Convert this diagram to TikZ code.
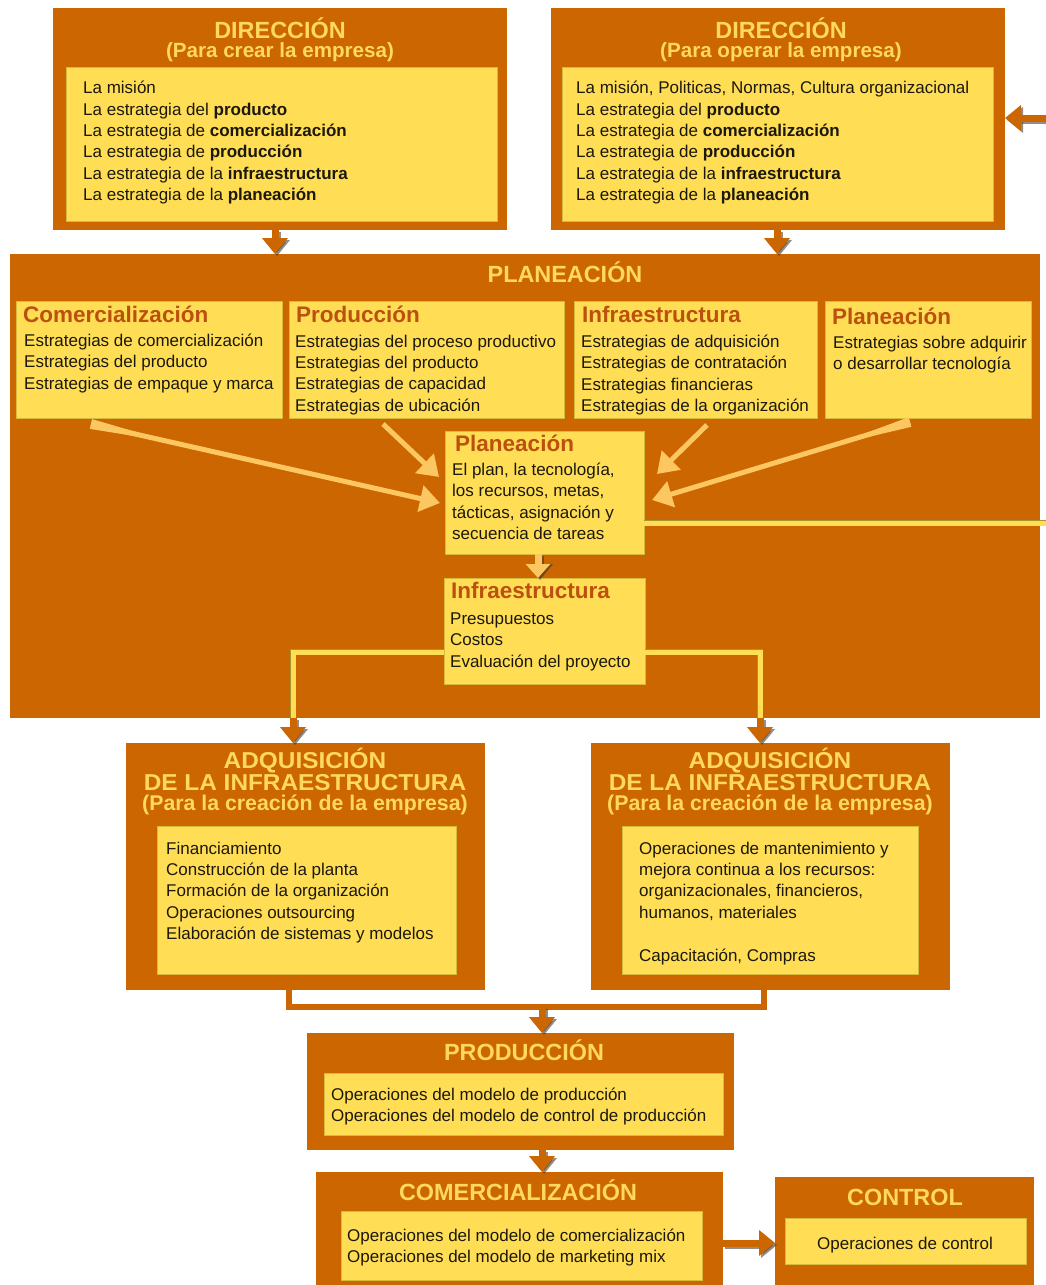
\documentclass[tikz,border=0pt]{standalone}
\usepackage{fontspec}
\setmainfont{Liberation Sans}
\newfontfamily\adqfont[FakeStretch=1.06]{Liberation Sans}
\usetikzlibrary{arrows.meta,calc}
\definecolor{orng}{RGB}{204,102,0}
\definecolor{ylw}{RGB}{255,222,85}
\definecolor{ylwedge}{RGB}{215,185,60}
\definecolor{ttl}{RGB}{255,216,96}
\definecolor{hdgc}{RGB}{188,80,15}
\definecolor{txt}{RGB}{28,24,12}
\definecolor{larr}{RGB}{252,198,96}
\definecolor{shd}{RGB}{60,50,40}
\begin{document}
\begin{tikzpicture}[x=1pt,y=-1pt,
  outer/.style={fill=orng,draw=none,anchor=north west,inner sep=0pt,outer sep=0pt},
  inner/.style={fill=ylw,draw=ylwedge,line width=0.8pt,anchor=north west,inner sep=0pt,outer sep=0pt},
  ttlA/.style={text=ttl,anchor=base,inner sep=0pt,font=\bfseries\fontsize{23.4}{24}\selectfont},
  ttlB/.style={text=ttl,anchor=base,inner sep=0pt,font=\adqfont\bfseries\fontsize{23}{23}\selectfont},
  subA/.style={text=ttl,anchor=base,inner sep=0pt,font=\bfseries\fontsize{20.6}{21}\selectfont},
  subB/.style={text=ttl,anchor=base,inner sep=0pt,font=\bfseries\fontsize{21.3}{22}\selectfont},
  hdg/.style={text=hdgc,anchor=base west,inner sep=0pt,font=\bfseries\fontsize{22.5}{23}\selectfont},
  body/.style={text=txt,anchor=north west,inner sep=0pt,align=left,font=\fontsize{17}{21.4}\selectfont},
  blk/.style={draw=orng,line width=7pt,-{Triangle[length=16pt,width=25pt]}},
  blkS/.style={draw=shd,opacity=.55,line width=7pt,-{Triangle[length=16pt,width=25pt]},transform canvas={shift={(2pt,-2pt)}}},
  lar/.style={draw=larr,line width=5pt,-{Triangle[length=20pt,width=26pt]}},
  larB/.style={draw=larr,line width=7pt,-{Triangle[length=14pt,width=24pt]}},
  yline/.style={draw=ylw,line width=5pt,preaction={draw=ylwedge!80!black,line width=6.2pt}},
  oline/.style={draw=orng,line width=6.5pt,line join=miter}
]
\useasboundingbox (0,0) rectangle (1046,1285);
\fill[white] (0,0) rectangle (1046,1285);

% ---------- DIRECCION boxes ----------
\node[outer,minimum width=454pt,minimum height=222pt] (d1) at (53,8) {};
\node[inner,minimum width=431pt,minimum height=154pt] (i1) at (66,67) {};
\node[outer,minimum width=454pt,minimum height=222pt] (d2) at (551,8) {};
\node[inner,minimum width=431pt,minimum height=154pt] (i2) at (562,67) {};
\node[ttlA] (d1t) at (280,38) {DIRECCIÓN};
\node[subA] (d1s) at (280,57) {(Para crear la empresa)};
\node[ttlA] (d2t) at (781,38) {DIRECCIÓN};
\node[subA] (d2s) at (781,57) {(Para operar la empresa)};
\node[body] (t1) at (83,81) {La misión\\La estrategia del \textbf{producto}\\La estrategia de \textbf{comercialización}\\La estrategia de \textbf{producción}\\La estrategia de la \textbf{infraestructura}\\La estrategia de la \textbf{planeación}};
\node[body] (t2) at (576,81) {La misión, Politicas, Normas, Cultura organizacional\\La estrategia del \textbf{producto}\\La estrategia de \textbf{comercialización}\\La estrategia de \textbf{producción}\\La estrategia de la \textbf{infraestructura}\\La estrategia de la \textbf{planeación}};

% ---------- PLANEACION ----------
\node[outer,minimum width=1030pt,minimum height=464pt] (plan) at (10,254) {};
\node[ttlA] (plt) at (565,282) {PLANEACIÓN};
\node[inner,minimum width=266pt,minimum height=117pt] (s1) at (16,301) {};
\node[inner,minimum width=275pt,minimum height=117pt] (s2) at (289,301) {};
\node[inner,minimum width=243pt,minimum height=117pt] (s3) at (574,301) {};
\node[inner,minimum width=206pt,minimum height=117pt] (s4) at (825,301) {};
\node[hdg] (h1) at (23,322) {Comercialización};
\node[hdg] (h2) at (296,322) {Producción};
\node[hdg] (h3) at (582,322) {Infraestructura};
\node[hdg] (h4) at (832,324) {Planeación};
\node[body] (b1) at (24,333.6) {Estrategias de comercialización\\Estrategias del producto\\Estrategias de empaque y marca};
\node[body] (b2) at (295,334.6) {Estrategias del proceso productivo\\Estrategias del producto\\Estrategias de capacidad\\Estrategias de ubicación};
\node[body] (b3) at (581,334.6) {Estrategias de adquisición\\Estrategias de contratación\\Estrategias financieras\\Estrategias de la organización};
\node[body] (b4) at (833,335.6) {Estrategias sobre adquirir\\o desarrollar tecnología};

\node[inner,minimum width=199pt,minimum height=123pt] (pc) at (445,431) {};
\node[hdg] (hpc) at (455,451) {Planeación};
\node[body] (bpc) at (452,462.6) {El plan, la tecnología,\\los recursos, metas,\\tácticas, asignación y\\secuencia de tareas};

\node[inner,minimum width=201pt,minimum height=106pt] (inf) at (444,578) {};
\node[hdg] (hinf) at (451,598) {Infraestructura};
\node[body] (binf) at (450,612.6) {Presupuestos\\Costos\\Evaluación del proyecto};

% light arrows into central Planeacion
\coordinate (la1) at (91,424);  \coordinate (lt1) at (440,503);
\coordinate (la2) at (383,424); \coordinate (lt2) at (439,477);
\coordinate (la3) at (707,425); \coordinate (lt3) at (657,474);
\coordinate (la4) at (910,422); \coordinate (lt4) at (652,500);
\draw[lar] (la1) -- (lt1);
\draw[lar] (la2) -- (lt2);
\draw[lar] (la3) -- (lt3);
\draw[lar] (la4) -- (lt4);
% tapered tails
\fill[larr] ($(la1)!5pt!90:(lt1)$) -- ($(la1)!5pt!-90:(lt1)$) -- ($(la1)!80pt!(lt1)$) -- cycle;
\fill[larr] ($(la4)!5pt!90:(lt4)$) -- ($(la4)!5pt!-90:(lt4)$) -- ($(la4)!80pt!(lt4)$) -- cycle;

% Planeacion -> Infraestructura
\coordinate (ax2) at (538,0);
\draw[blkS] (pc.south -| ax2) -- (inf.north -| ax2);
\draw[larB] (pc.south -| ax2) -- (inf.north -| ax2);

% feedback yellow line
\coordinate (fb2) at (1046,523);
\draw[yline] (pc.east |- fb2) -- (fb2);

% yellow lines from Infraestructura down
\coordinate (y1) at (293,0);
\coordinate (y2) at (760,0);
\draw[yline] ([yshift=-21pt]inf.west) -| (plan.south -| y1);
\draw[yline] ([yshift=-21pt]inf.east) -| (plan.south -| y2);

% ---------- ADQUISICION ----------
\node[outer,minimum width=359pt,minimum height=247pt] (a1) at (126,743) {};
\node[inner,minimum width=299pt,minimum height=148pt] (ai1) at (157,826) {};
\node[outer,minimum width=359pt,minimum height=247pt] (a2) at (591,743) {};
\node[inner,minimum width=296pt,minimum height=148pt] (ai2) at (622,826) {};
\node[ttlB] (a1t1) at (305,768) {ADQUISICIÓN};
\node[ttlB] (a1t2) at (305,790) {DE LA INFRAESTRUCTURA};
\node[subB] (a1s) at (305,810) {(Para la creación de la empresa)};
\node[ttlB] (a2t1) at (770,768) {ADQUISICIÓN};
\node[ttlB] (a2t2) at (770,790) {DE LA INFRAESTRUCTURA};
\node[subB] (a2s) at (770,810) {(Para la creación de la empresa)};
\node[body] (ba1) at (166,841.6) {Financiamiento\\Construcción de la planta\\Formación de la organización\\Operaciones outsourcing\\Elaboración de sistemas y modelos};
\node[body] (ba2) at (639,841.6) {Operaciones de mantenimiento y\\mejora continua a los recursos:\\organizacionales, financieros,\\humanos, materiales\\[21.4pt]Capacitación, Compras};

% arrows into ADQ boxes
\draw[blkS] (plan.south -| y1) -- (a1.north -| y1);
\draw[blk] (plan.south -| y1) -- (a1.north -| y1);
\draw[blkS] (plan.south -| y2) -- (a2.north -| y2);
\draw[blk] (plan.south -| y2) -- (a2.north -| y2);

% ---------- PRODUCCION ----------
\node[outer,minimum width=427pt,minimum height=117pt] (pr) at (307,1033) {};
\node[inner,minimum width=399pt,minimum height=62pt] (pri) at (324,1073) {};
\node[ttlA] (prt) at (524,1060) {PRODUCCIÓN};
\node[body] (bpr) at (331,1087.6) {Operaciones del modelo de producción\\Operaciones del modelo de control de producción};

% bracket from ADQ boxes
\coordinate (b1) at (289,1007);
\coordinate (b2) at (764,1007);
\coordinate (b3) at (542,1007);
\draw[oline] (a1.south -| b1) -- (b1) -- (b2) -- (a2.south -| b2);
\draw[blkS] (b3) -- (pr.north -| b3);
\draw[blk] (b3) -- (pr.north -| b3);

% ---------- COMERCIALIZACION ----------
\node[outer,minimum width=407pt,minimum height=113pt] (cm) at (316,1172) {};
\node[inner,minimum width=361pt,minimum height=69pt] (cmi) at (341,1211) {};
\node[ttlA] (cmt) at (518,1200) {COMERCIALIZACIÓN};
\node[body] (bcm) at (347,1228.6) {Operaciones del modelo de comercialización\\Operaciones del modelo de marketing mix};
\draw[blkS] (pr.south -| b3) -- (cm.north -| b3);
\draw[blk] (pr.south -| b3) -- (cm.north -| b3);

% ---------- CONTROL ----------
\node[outer,minimum width=259pt,minimum height=108pt] (ct) at (775,1177) {};
\node[inner,minimum width=241pt,minimum height=46pt] (cti) at (785,1218) {};
\node[ttlA] (ctt) at (905,1205) {CONTROL};
\node[text=txt,anchor=base,inner sep=0pt,font=\fontsize{17}{21.4}\selectfont] (bct) at (905,1249) {Operaciones de control};
\coordinate (c3) at (0,1243);
\draw[blkS] (cm.east |- c3) -- (ct.west |- c3);
\draw[blk] (cm.east |- c3) -- (ct.west |- c3);

% feedback arrow into top-right DIRECCION
\coordinate (fb) at (1046,118);
\draw[blkS] (fb) -- (d2.east |- fb);
\draw[blk] (fb) -- (d2.east |- fb);

% down arrows from DIRECCION
\coordinate (ax1) at (275,0);
\coordinate (ax3) at (777,0);
\draw[blkS] (d1.south -| ax1) -- (plan.north -| ax1);
\draw[blk] (d1.south -| ax1) -- (plan.north -| ax1);
\draw[blkS] (d2.south -| ax3) -- (plan.north -| ax3);
\draw[blk] (d2.south -| ax3) -- (plan.north -| ax3);
\end{tikzpicture}
\end{document}
